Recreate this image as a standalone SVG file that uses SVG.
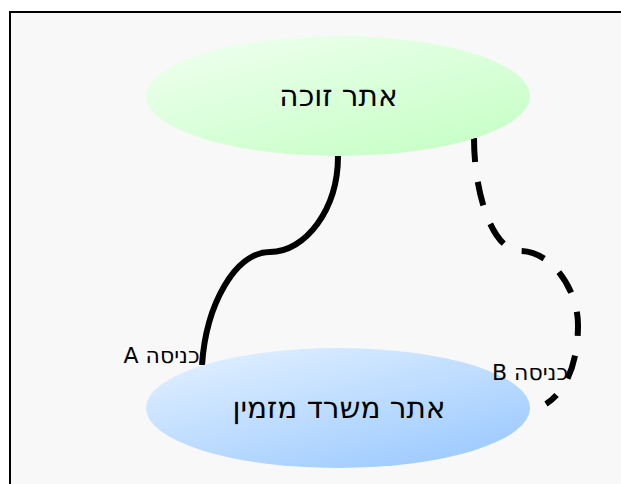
<svg xmlns="http://www.w3.org/2000/svg" width="621" height="484" viewBox="0 0 621 484">
<style>
.t{font-family:"DejaVu Sans",sans-serif;fill:#000;text-anchor:middle;direction:rtl;text-rendering:geometricPrecision}
.big{font-size:29.5px}
.small{font-size:22px}
.c{fill:none;stroke:#000;stroke-width:6}
</style>
<defs>
<linearGradient id="g" x1="0.1" y1="0" x2="0.9" y2="1"><stop offset="0" stop-color="#efffef"/><stop offset="1" stop-color="#c4ffc4"/></linearGradient>
<linearGradient id="b" x1="0.1" y1="0" x2="0.9" y2="1"><stop offset="0" stop-color="#e2f0ff"/><stop offset="1" stop-color="#99c8ff"/></linearGradient>
</defs>
<rect width="621" height="484" fill="#fff"/>
<rect x="10" y="12" width="620" height="480" fill="#f8f8f8" stroke="#000" stroke-width="2"/>
<g id="connectors">
<path class="c" d="M338 156C338 210 305 252 270 252C235 252 206 305 202 365"/>
<path class="c" stroke-dasharray="24 20" d="M474 138C474 195 493 251 520 251C552 251 578 290 578 325C578 365 565 392 546 404"/>
</g>
<g id="node-winner"><ellipse cx="338" cy="96" rx="192" ry="60" fill="url(#g)"/><text class="t big" x="338.500" y="106">אתר זוכה</text></g>
<g id="node-inviter"><ellipse cx="338" cy="408" rx="192" ry="60" fill="url(#b)"/><text class="t big" x="339" y="418">אתר משרד מזמין</text></g>
<g id="label-a"><text class="t small" x="161.500" y="363">כניסה A</text></g>
<g id="label-b"><text class="t small" x="530" y="380">כניסה B</text></g>
</svg>
